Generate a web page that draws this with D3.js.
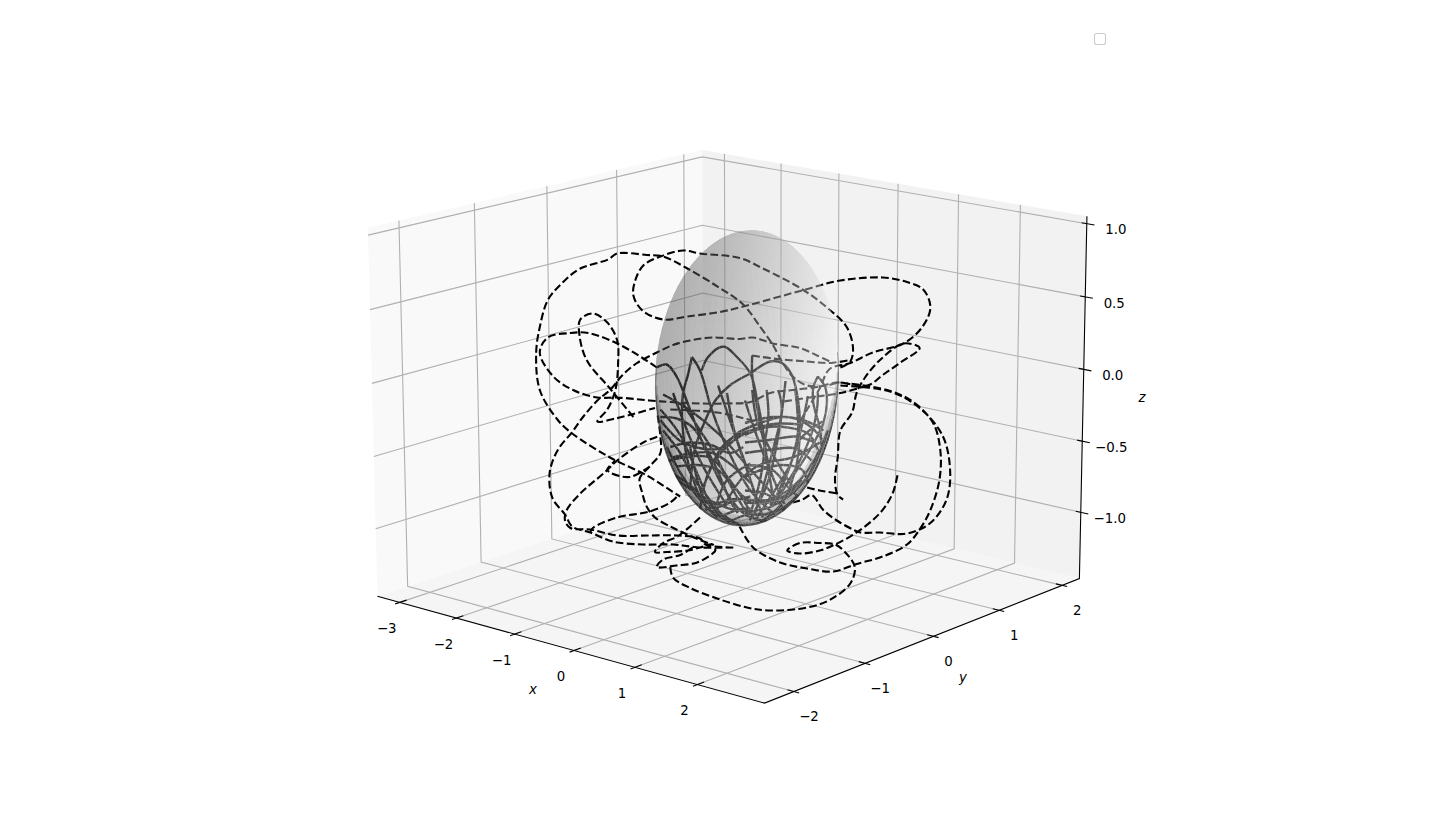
<!DOCTYPE html>
<html>
<head>
<meta charset="utf-8">
<script src="https://cdn.jsdelivr.net/npm/d3@7"></script>
<style>
body { margin: 0; background: #fff; }
text { font-family: "DejaVu Sans"; font-size: 13.33px; fill: #000; }
</style>
</head>
<body>
<script>
var xTicks = [-3, -2, -1, 0, 1, 2]
var yTicks = [-2, -1, 0, 1, 2]
var zTicks = [-1, -0.5, 0, 0.5, 1]
var xLimits = [-3.4, 3.05]
var yLimits = [-2.4, 2.28]
var zLimits = [-1.47, 1.05]
var sphereCentre = [0.02, 0.012, -0.014]

// the path as seen in the picture, in sphere radii across and up from the sphere centre
// null breaks the line where it could not be followed
var dashAcross = [
	1.06,1.17,1.20,1.13,.91,.64,.20,-.06,-.50,-.69,-.94,-1.13,-1.22,-1.24,-1.14,-.91,-.64,-.28,-.06,.31,.67,1.06,1.53,1.80,1.98,2.06,1.97,1.76,1.42,1.17,.94,.83,.69,.61,null,
	1.02,.91,.69,.53,.42,.31,.17,-.02,-.28,-.64,-.91,-1.09,-1.42,-1.52,-1.83,-2.02,-2.19,-2.28,-2.32,-2.28,-2.08,-1.92,-1.50,-1.09,-.80,-.72,null,
	-.98,-1.13,-1.42,-1.74,-1.94,-2.19,-2.28,-2.13,-1.91,-1.64,-1.42,-1.06,-.83,-.50,-.20,.06,.28,.53,.80,1.02,1.36,1.53,1.72,1.94,1.76,1.50,1.33,1.24,1.19,1.06,1.03,1.00,1.03,1.09,null,
	-1.24,-1.50,-1.76,-1.84,-1.83,-1.69,-1.53,-1.42,-1.41,-1.44,-1.53,-1.64,-1.44,-1.24,-1.00,null,
	-.13,-.50,-.80,-1.13,-1.47,-1.72,-1.92,-2.00,-2.14,-2.17,-2.08,-1.92,-1.80,-1.64,-1.50,-1.36,-1.20,-.98,-.80,-.61,-.36,-.06,.09,.31,.61,.80,.98,null,
	-.13,-.44,-.50,-.76,-1.09,-1.42,-1.72,-1.94,-2.00,-1.98,-1.83,-1.56,-1.42,-1.13,-.97,null,
	-1.72,-1.69,-1.42,-1.06,-.83,-.74,null,
	-.97,-.94,-.94,-1.06,-1.17,-1.14,-1.09,-1.00,-.83,-.69,-.50,-.36,null,
	-1.06,-1.28,-1.50,-1.53,-1.44,null,
	-.50,-.61,-.76,-.91,-1.00,-.87,-.64,-.50,-.36,-.33,-.36,-.53,-.76,-.98,-.91,-.72,-.58,null,
	-.83,-.80,-.61,-.31,.02,.28,.69,.94,1.17,1.22,1.11,1.00,.83,.61,.47,.61,.83,1.00,1.24,1.50,1.64,1.70,null,
	-.06,.09,.39,.69,.98,1.24,1.53,1.80,1.94,2.06,2.16,2.17,2.09,1.87,1.58,1.06,null,
	1.06,1.61,1.94,2.20,2.28,2.24,2.09,1.94,1.76,1.50,1.28,1.20,1.02,.87,.74,.64,.53,null,
	.69,.83,1.03,null,
	.08,.31,.69,.94,1.17,null,
	1.36,1.06,.72,.39,null,
	-.83,-.31,.06
]
var dashUp = [
	.07,.11,.20,.34,.47,.59,.73,.80,.83,.85,.81,.75,.65,.55,.45,.39,.41,.44,.47,.53,.59,.65,.67,.64,.59,.47,.34,.23,.17,.10,.06,-.07,-.21,-.29,null,
	-.03,-.05,-.05,.01,.10,.22,.34,.49,.60,.73,.81,.82,.83,.79,.73,.64,.52,.34,.17,-.08,-.28,-.37,-.53,-.65,-.76,-.79,null,
	.07,.13,.23,.30,.30,.27,.17,.01,-.08,-.13,-.13,-.15,-.16,-.17,-.17,-.16,-.10,-.08,-.06,-.03,-.05,.02,.10,.20,.23,.12,0,-.10,-.23,-.35,-.53,-.68,-.78,-.81,null,
	-.26,-.07,.12,.29,.39,.43,.37,.25,.10,-.08,-.21,-.29,-.27,-.24,-.20,null,
	-1.13,-1.13,-1.11,-1.11,-1.09,-1.03,-.99,-.91,-.80,-.63,-.48,-.36,-.26,-.15,-.08,.02,.10,.17,.22,.25,.27,.26,.27,.23,.20,.15,.10,null,
	-1.13,-1.11,-1.07,-1.05,-1.05,-1.05,-1.01,-1.00,-.95,-.88,-.77,-.63,-.55,-.43,-.39,null,
	-1.03,-1.00,-.93,-.89,-.83,-.78,null,
	-.25,-.39,-.50,-.59,-.67,-.77,-.86,-.93,-.99,-1.03,-1.08,-1.11,null,
	-.59,-.66,-.63,-.61,-.55,null,
	-.93,-.99,-1.06,-1.10,-1.16,-1.16,-1.15,-1.13,-1.11,-1.15,-1.17,-1.23,-1.25,-1.26,-1.21,-1.18,-1.13,null,
	-1.26,-1.33,-1.40,-1.47,-1.53,-1.55,-1.53,-1.48,-1.37,-1.26,-1.16,-1.11,-1.10,-1.10,-1.15,-1.17,-1.15,-1.11,-1.03,-.90,-.77,-.63,null,
	-.99,-1.13,-1.23,-1.27,-1.29,-1.24,-1.19,-1.11,-1.01,-.88,-.68,-.48,-.30,-.16,-.08,-.03,null,
	-.05,-.09,-.20,-.39,-.63,-.81,-.95,-1.01,-1.04,-1.03,-1.03,-1.01,-.95,-.88,-.78,-.81,-.83,null,
	-.73,-.75,-.77,null,
	.15,.13,.11,.10,.12,null,
	-.05,-.10,-.13,-.16,null,
	-.21,-.23,-.28
]
var solidAcross = [
	-.98,-.87,-.76,-.63,-.44,-.22,0,.28,null,
	-.59,-.63,-.69,-.69,-.61,-.44,-.17,null,
	-.59,-.50,-.37,-.19,.06,.33,null,
	-.48,-.41,-.24,-.09,.06,.13,.20,.26,.33,null,
	.06,-.17,-.33,-.44,-.56,-.61,null,
	.06,.28,.41,.52,.59,.61,.56,.39,.17,null,
	.08,.08,.14,.28,.44,null,
	.81,.76,.76,.83,.85,null,
	.81,.89,.91,.87,.72,.50,.28,null,
	-.94,-.69,-.28,-.09,.17,.42,.69,.87,null,
	-.94,-.69,-.39,-.17,-.02,.09,null,
	-.24,-.02,.20,.53,.83,null,
	.11,.33,.50,.61,.86,null,
	-.50,-.39,-.11,.28,.61,null,
	-.44,-.17,.28,.61,.83,null,
	-.81,-.50,-.11,.28,.67,.92,null,
	-.94,-.72,-.50,-.37,-.06,null,
	-.91,-.60,-.28,.06,.33,.44,null,
	-.69,-.50,-.36,-.13,.02,null,
	-.94,-.76,-.58,-.44,-.31,-.17,-.08,null,
	-.83,-.61,-.36,-.17,-.02,null,
	-.80,-.58,-.36,-.13,.06,null,
	-.76,-.53,-.31,-.09,.06,null,
	-.50,-.42,-.28,-.17,.06,null,
	-.31,-.20,.06,null,
	-.91,-.72,-.58,-.42,-.24,null,
	-.87,-.69,-.50,-.31,null,
	-.61,-.53,-.42,null,
	-.36,-.17,.06,null,
	-.28,-.09,.06,null,
	-.20,.06,null,
	.24,.26,.22,.20,.14,.06,null,
	.56,.58,.59,.53,.41,null,
	.81,.80,.74,.61,.44,.33,null,
	0,.30,.56,.74,.86,null,
	0,.22,.48,.70,.81,null,
	0,.30,.56,.78,null,
	0,.26,.56,.74,null,
	0,.30,.48,.59,null,
	0,.19,.41,.63,.70,null,
	0,.22,.37,.44,null,
	0,.26,.48,.63,null,
	0,.22,.41,.59,null,
	.08,.14,.33,.48,.56,null,
	.37,.41,.31,.19,.11,null,
	0,.11,.22,.37,null,
	-.30,-.10,.10,.20,null,
	.45,.38,.25,.05,null,
	-.80,-.50,-.20,null,
	.70,.55,.30,null,
	-.20,-.12,.02,.12,null,
	-.85,-.60,-.30,-.10,null
]
var solidUp = [
	.07,.09,.01,-.18,-.48,-.75,-.91,-.96,null,
	.14,.03,-.11,-.35,-.61,-.85,-.96,null,
	.14,.05,-.21,-.48,-.75,-.91,null,
	.05,.14,.21,.14,.03,-.13,-.35,-.61,-.85,null,
	.03,-.05,-.15,-.28,-.48,-.75,null,
	.03,.11,.10,.02,-.15,-.35,-.61,-.85,-.96,null,
	.15,.02,-.21,-.61,-.84,null,
	.01,-.06,-.17,-.33,-.45,null,
	.01,-.06,-.17,-.30,-.48,-.68,-.85,null,
	-.28,-.43,-.47,-.37,-.30,-.26,-.29,-.35,null,
	-.57,-.53,-.53,-.68,-.81,-.93,null,
	-.86,-.66,-.57,-.53,-.43,null,
	-.95,-.75,-.58,-.41,-.29,null,
	-.88,-.61,-.41,-.31,-.31,null,
	-.88,-.81,-.81,-.68,-.48,null,
	-.65,-.78,-.88,-.86,-.68,-.35,null,
	-.21,-.38,-.68,-.85,-.98,null,
	-.11,-.22,-.38,-.61,-.79,-.88,null,
	-.17,-.35,-.48,-.75,-.90,null,
	-.26,-.27,-.33,-.46,-.61,-.81,-.90,null,
	-.46,-.43,-.45,-.50,-.46,null,
	-.53,-.50,-.50,-.59,-.70,null,
	-.59,-.58,-.61,-.75,-.83,null,
	-.79,-.66,-.48,-.41,-.35,null,
	-.83,-.68,-.57,null,
	-.35,-.50,-.66,-.79,-.93,null,
	-.46,-.66,-.81,-.93,null,
	-.46,-.68,-.88,null,
	-.88,-.83,-.79,null,
	-.93,-.88,-.87,null,
	-.96,-.90,null,
	-.08,-.26,-.43,-.57,-.75,-.90,null,
	-.08,-.21,-.35,-.53,-.73,null,
	-.10,-.21,-.37,-.55,-.73,-.83,null,
	-.30,-.26,-.27,-.33,-.41,null,
	-.38,-.33,-.33,-.37,-.48,null,
	-.43,-.41,-.39,-.43,null,
	-.50,-.48,-.47,-.55,null,
	-.58,-.61,-.73,-.79,null,
	-.66,-.61,-.58,-.61,-.70,null,
	-.75,-.77,-.83,-.90,null,
	-.83,-.83,-.77,-.68,null,
	-.90,-.91,-.87,-.78,null,
	-.08,-.30,-.53,-.68,-.75,null,
	-.08,-.21,-.48,-.75,-.90,null,
	-.15,-.35,-.53,-.75,null,
	-.05,-.40,-.75,-.93,null,
	-.02,-.35,-.70,-.95,null,
	-.10,-.55,-.85,null,
	-.12,-.50,-.85,null,
	-.10,-.35,-.60,-.80,null,
	-.62,-.72,-.90,-.97
]

var svg = d3.select("body").append("svg")
	.attr("width", 1440)
	.attr("height", 836)

// corners of the axes box on the page, box coordinates 0..1
var boxCorners = [
	[0, 0, 0, 377, 596],
	[1, 0, 0, 765, 703],
	[1, 1, 0, 1079, 579],
	[1, 1, 1, 1087, 216],
	[0, 0, 1, 368, 228],
	[0, 1, 1, 702, 150],
	[0, 1, 0, 704, 489]
]

var xScale = d3.scaleLinear().domain(xLimits).range([0, 1])
var yScale = d3.scaleLinear().domain(yLimits).range([0, 1])
var zScale = d3.scaleLinear().domain(zLimits).range([0, 1])

// least squares fit of the perspective of the box
function fitCamera(corners) {
	var rows = []
	corners.forEach(function(c) {
		rows.push([1, c[0], c[1], c[2], 0, 0, 0, 0, -c[3]*c[0], -c[3]*c[1], -c[3]*c[2], c[3]])
		rows.push([0, 0, 0, 0, 1, c[0], c[1], c[2], -c[4]*c[0], -c[4]*c[1], -c[4]*c[2], c[4]])
	})
	var n = 11
	var m = d3.range(n).map(function(i) {
		return d3.range(n + 1).map(function(j) {
			return d3.sum(rows, function(r) {return r[i] * r[j]})
		})
	})
	for (var i = 0; i < n; i++) {
		var best = i
		for (var k = i + 1; k < n; k++) if (Math.abs(m[k][i]) > Math.abs(m[best][i])) best = k
		var t = m[i]; m[i] = m[best]; m[best] = t
		for (var k = 0; k < n; k++) {
			if (k == i) continue
			var f = m[k][i] / m[i][i]
			for (var j = i; j <= n; j++) m[k][j] -= f * m[i][j]
		}
	}
	return m.map(function(r, i) {return r[n] / r[i]})
}
var cam = fitCamera(boxCorners)

function project(x, y, z) {
	var u = xScale(x), v = yScale(y), w = zScale(z)
	var d = 1 + cam[8]*u + cam[9]*v + cam[10]*w
	return [(cam[0] + cam[1]*u + cam[2]*v + cam[3]*w) / d, (cam[4] + cam[5]*u + cam[6]*v + cam[7]*w) / d]
}

var x0 = xLimits[0], x1 = xLimits[1], y0 = yLimits[0], y1 = yLimits[1], z0 = zLimits[0], z1 = zLimits[1]

function polyline(pts) {
	return "M" + pts.map(function(p) {return project(p[0], p[1], p[2]).join(",")}).join("L")
}

// panes
svg.append("path").attr("fill", "#f9f9f9")
	.attr("d", polyline([[x0,y0,z0],[x0,y1,z0],[x0,y1,z1],[x0,y0,z1]]) + "Z")
svg.append("path").attr("fill", "#f2f2f2")
	.attr("d", polyline([[x0,y1,z0],[x1,y1,z0],[x1,y1,z1],[x0,y1,z1]]) + "Z")
svg.append("path").attr("fill", "#f5f5f5")
	.attr("d", polyline([[x0,y0,z0],[x1,y0,z0],[x1,y1,z0],[x0,y1,z0]]) + "Z")

// grid
var grid = svg.append("g").attr("fill", "none").attr("stroke", "#b0b0b0").attr("stroke-width", 1.1)
xTicks.forEach(function(t) {
	grid.append("path").attr("d", polyline([[t,y0,z0],[t,y1,z0],[t,y1,z1]]))
})
yTicks.forEach(function(t) {
	grid.append("path").attr("d", polyline([[x1,t,z0],[x0,t,z0],[x0,t,z1]]))
})
zTicks.forEach(function(t) {
	grid.append("path").attr("d", polyline([[x0,y0,t],[x0,y1,t],[x1,y1,t]]))
})

// axis lines and ticks
var axes = svg.append("g").attr("fill", "none").attr("stroke", "#000").attr("stroke-width", 1.1)
axes.append("path").attr("d", polyline([[x0,y0,z0],[x1,y0,z0],[x1,y1,z0],[x1,y1,z1]]))
xTicks.forEach(function(t) {
	axes.append("path").attr("d", polyline([[t,y0-0.06,z0],[t,y0+0.09,z0]]))
	var p = project(t, y0, z0)
	svg.append("text").attr("x", p[0] - 13).attr("y", p[1] + 26).attr("dy", "0.35em")
		.attr("text-anchor", "middle").text(d3.format("d")(t))
})
yTicks.forEach(function(t) {
	axes.append("path").attr("d", polyline([[x1-0.1,t,z0],[x1+0.08,t,z0]]))
	var p = project(x1, t, z0)
	svg.append("text").attr("x", p[0] + 15).attr("y", p[1] + 25).attr("dy", "0.35em")
		.attr("text-anchor", "middle").text(d3.format("d")(t))
})
zTicks.forEach(function(t) {
	axes.append("path").attr("d", polyline([[x1-0.08,y1,t],[x1+0.12,y1,t]]))
	var p = project(x1, y1, t)
	svg.append("text").attr("x", p[0] + 29).attr("y", p[1] + 6).attr("dy", "0.35em")
		.attr("text-anchor", "middle").text(d3.format(".1f")(t))
})

svg.append("text").attr("x", 533).attr("y", 689).attr("dy", "0.35em").attr("text-anchor", "middle")
	.style("font-style", "italic").text("x")
svg.append("text").attr("x", 963).attr("y", 677).attr("dy", "0.35em").attr("text-anchor", "middle")
	.style("font-style", "italic").text("y")
svg.append("text").attr("x", 1142).attr("y", 397).attr("dy", "0.35em").attr("text-anchor", "middle")
	.style("font-style", "italic").text("z")

// sphere mesh, lit the way matplotlib shades a surface
var nLon = 72, nLat = 48
var light = [0.667, 0.667, -0.333]
var viewDir = [0.48, -0.83, 0.26]
var faceLine = d3.line()
var faces = []
d3.range(nLon).forEach(function(i) {
	d3.range(nLat).forEach(function(j) {
		var lon0 = 2*Math.PI*i/nLon, lon1 = 2*Math.PI*(i+1)/nLon
		var lat0 = Math.PI*j/nLat, lat1 = Math.PI*(j+1)/nLat
		var p3 = [[lon0,lat0],[lon1,lat0],[lon1,lat1],[lon0,lat1]].map(function(a) {
			return [Math.cos(a[0])*Math.sin(a[1]), Math.sin(a[0])*Math.sin(a[1]), Math.cos(a[1])]
		})
		var mid = [0, 1, 2].map(function(k) {return d3.mean(p3, function(p) {return p[k]})})
		var dot = mid[0]*light[0] + mid[1]*light[1] + mid[2]*light[2]
		var pts = p3.map(function(p) {
			return project(p[0] + sphereCentre[0], p[1] + sphereCentre[1], p[2] + sphereCentre[2])
		})
		faces.push({
			pts: pts,
			grey: Math.round(255 * (0.3 + 0.7 * (dot + 1) / 2)),
			z: mid[2],
			area: d3.polygonArea(pts),
			facing: mid[0]*viewDir[0] + mid[1]*viewDir[1] + mid[2]*viewDir[2]
		})
	})
})
// winding on the page tells front from back, the face looking at the viewer sets the sign
var nearest = d3.greatest(faces, function(f) {return f.facing})
faces.forEach(function(f) {f.front = (f.area > 0) == (nearest.area > 0)})
var facePath = function(f) {return faceLine(f.pts) + "Z"}

var clip = svg.append("clipPath").attr("id", "sphere-clip")
clip.selectAll("path").data(faces.filter(function(f) {return f.front}))
	.enter().append("path").attr("d", facePath)

// trajectories, the sphere goes on top of them
var acrossScale = d3.scaleLinear().domain([-1, 1]).range([655, 835])
var upScale = d3.scaleLinear().domain([-1, 1]).range([528, 228])

function traceLine(across, up) {
	return d3.line()
		.defined(function(i) {return across[i] !== null})
		.x(function(i) {return acrossScale(across[i])})
		.y(function(i) {return upScale(up[i])})
		.curve(d3.curveCatmullRom.alpha(0.5))(d3.range(across.length))
}

svg.append("path").attr("fill", "none").attr("stroke", "#000").attr("stroke-width", 2.4)
	.attr("clip-path", "url(#sphere-clip)")
	.attr("d", traceLine(solidAcross, solidUp))
svg.append("path").attr("fill", "none").attr("stroke", "#000").attr("stroke-width", 2.1)
	.attr("stroke-dasharray", "7.7,3.3")
	.attr("d", traceLine(dashAcross, dashUp))

var surfaceOpacity = 0.25
;[false, true].forEach(function(front) {
	var layer = svg.append("g").attr("opacity", surfaceOpacity)
	layer.selectAll("path")
		.data(faces.filter(function(f) {return f.front == front}))
		.enter().append("path")
		.attr("d", facePath)
		.attr("fill", function(f) {return d3.rgb(f.grey, f.grey, f.grey)})
		.attr("stroke", function(f) {return d3.rgb(f.grey, f.grey, f.grey)})
		.attr("stroke-width", 0.6)
})

// dark rim on the lower part of the outline, edges between front and back faces
var rim = []
faces.forEach(function(f, n) {
	var i = Math.floor(n / nLat), j = n % nLat
	var next = faces[((i + 1) % nLon) * nLat + j]
	if (f.front != next.front && f.z < 0.1) {
		rim.push({a: f.pts[1], b: f.pts[2], z: f.z})
	}
	if (j < nLat - 1) {
		var below = faces[n + 1]
		if (f.front != below.front && f.z < 0.1) {
			rim.push({a: f.pts[3], b: f.pts[2], z: f.z})
		}
	}
})
var rimBands = [[22, 0.16], [13, 0.22], [7, 0.35], [3.5, 0.9]]
var rimGroup = svg.append("g").attr("clip-path", "url(#sphere-clip)")
rimBands.forEach(function(band) {
	rimGroup.append("g").attr("opacity", band[1]).selectAll("line")
		.data(rim).enter().append("line")
		.attr("x1", function(d) {return d.a[0]}).attr("y1", function(d) {return d.a[1]})
		.attr("x2", function(d) {return d.b[0]}).attr("y2", function(d) {return d.b[1]})
		.attr("stroke", "#222").attr("stroke-linecap", "round")
		.attr("stroke-width", function(d) {return band[0] * Math.min(1, Math.max(0.1, (0.1 - d.z) * 1.6))})
})

// empty legend
svg.append("rect").attr("x", 1094.5).attr("y", 33.5).attr("width", 11).attr("height", 11).attr("rx", 2)
	.attr("fill", "#fff").attr("stroke", "#ccc").attr("stroke-width", 1.1)
</script>
</body>
</html>
